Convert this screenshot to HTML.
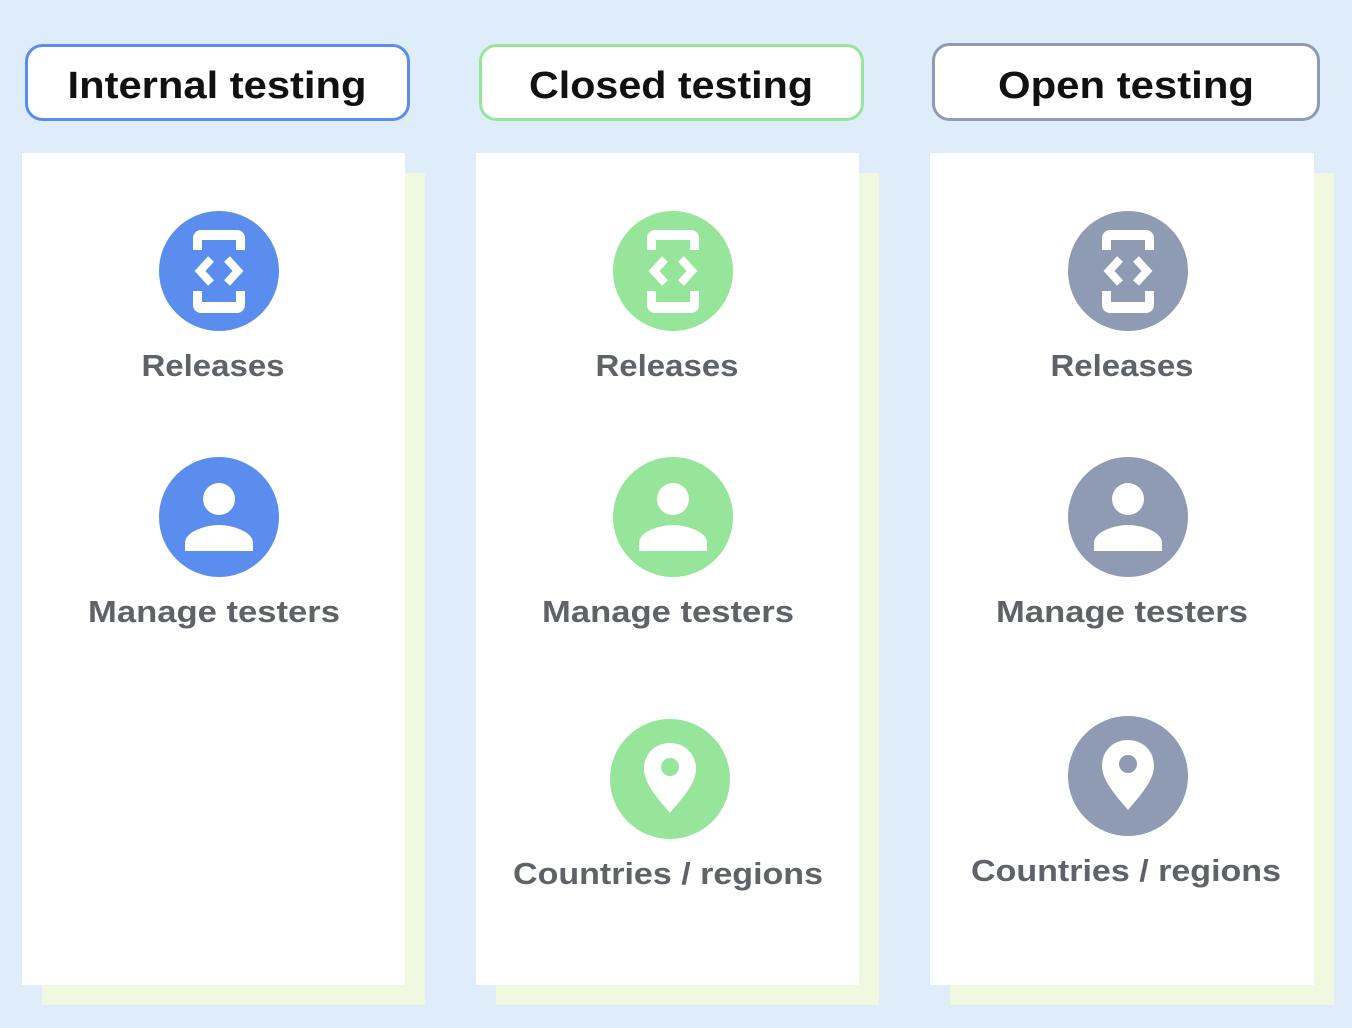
<!DOCTYPE html>
<html><head><meta charset="utf-8"><style>
html,body{margin:0;padding:0;background:#deedf9;}
svg{display:block}
</style></head><body>
<svg width="1352" height="1028" viewBox="0 0 1352 1028" xmlns="http://www.w3.org/2000/svg" font-family="Liberation Sans, sans-serif" font-weight="bold">
<defs>
<g id="rel">
<path fill-rule="evenodd" fill="#fff" d="M34 39 V27 a8 8 0 0 1 8 -8 H78 a8 8 0 0 1 8 8 V39 H77 V29 H43 V39Z"/>
<path fill-rule="evenodd" fill="#fff" d="M34 80 V94 a8 8 0 0 0 8 8 H78 a8 8 0 0 0 8 -8 V80 H77 V91 H43 V80Z"/>
<path d="M52 48 L41 60 L52 72 M68 48 L79 60 L68 72" fill="none" stroke="#fff" stroke-width="8" stroke-linejoin="miter"/>
</g>
<g id="per">
<circle cx="60" cy="42" r="16" fill="#fff"/>
<path d="M26 94 V86 c0 -12 22 -18 34 -18 s34 6 34 18 V94 Z" fill="#fff"/>
</g>
<g id="pin">
<path fill-rule="evenodd" fill="#fff" d="M60 24 C45 24 34 35 34 50 C34 66 52 84 60 94 C68 84 86 66 86 50 C86 35 75 24 60 24Z M60 39 a9 9 0 1 0 0.01 0Z"/>
</g>
</defs>

<rect x="42" y="173" width="383" height="832" fill="#f1f8e0"/>
<rect x="22" y="153" width="383" height="832" fill="#fff"/>
<rect x="26.5" y="45.5" width="382" height="74" rx="16" fill="#fff" stroke="#5b8def" stroke-width="3"/>
<text x="217" y="98" font-size="38" text-anchor="middle" fill="#111" textLength="299" lengthAdjust="spacingAndGlyphs">Internal testing</text>
<circle cx="219" cy="271" r="60" fill="#5b8def"/><use href="#rel" x="159" y="211"/>
<text x="213" y="376" font-size="31" text-anchor="middle" fill="#5f6368" textLength="143" lengthAdjust="spacingAndGlyphs">Releases</text>
<circle cx="219" cy="517" r="60" fill="#5b8def"/><use href="#per" x="159" y="457"/>
<text x="214" y="622" font-size="31" text-anchor="middle" fill="#5f6368" textLength="252" lengthAdjust="spacingAndGlyphs">Manage testers</text>

<rect x="496" y="173" width="383" height="832" fill="#f1f8e0"/>
<rect x="476" y="153" width="383" height="832" fill="#fff"/>
<rect x="480.5" y="45.5" width="382" height="74" rx="16" fill="#fff" stroke="#97e59a" stroke-width="3"/>
<text x="671" y="98" font-size="38" text-anchor="middle" fill="#111" textLength="284" lengthAdjust="spacingAndGlyphs">Closed testing</text>
<circle cx="673" cy="271" r="60" fill="#97e59a"/><use href="#rel" x="613" y="211"/>
<text x="667" y="376" font-size="31" text-anchor="middle" fill="#5f6368" textLength="143" lengthAdjust="spacingAndGlyphs">Releases</text>
<circle cx="673" cy="517" r="60" fill="#97e59a"/><use href="#per" x="613" y="457"/>
<text x="668" y="622" font-size="31" text-anchor="middle" fill="#5f6368" textLength="252" lengthAdjust="spacingAndGlyphs">Manage testers</text>
<circle cx="670" cy="779" r="60" fill="#97e59a"/><use href="#pin" x="610" y="719"/>
<text x="668" y="884" font-size="31" text-anchor="middle" fill="#5f6368" textLength="310" lengthAdjust="spacingAndGlyphs">Countries / regions</text>

<rect x="950" y="173" width="384" height="832" fill="#f1f8e0"/>
<rect x="930" y="153" width="384" height="832" fill="#fff"/>
<rect x="933.5" y="44.5" width="385" height="75" rx="16" fill="#fff" stroke="#8f9ab3" stroke-width="3"/>
<text x="1126" y="98" font-size="38" text-anchor="middle" fill="#111" textLength="256" lengthAdjust="spacingAndGlyphs">Open testing</text>
<circle cx="1128" cy="271" r="60" fill="#8f9ab3"/><use href="#rel" x="1068" y="211"/>
<text x="1122" y="376" font-size="31" text-anchor="middle" fill="#5f6368" textLength="143" lengthAdjust="spacingAndGlyphs">Releases</text>
<circle cx="1128" cy="517" r="60" fill="#8f9ab3"/><use href="#per" x="1068" y="457"/>
<text x="1122" y="622" font-size="31" text-anchor="middle" fill="#5f6368" textLength="252" lengthAdjust="spacingAndGlyphs">Manage testers</text>
<circle cx="1128" cy="776" r="60" fill="#8f9ab3"/><use href="#pin" x="1068" y="716"/>
<text x="1126" y="881" font-size="31" text-anchor="middle" fill="#5f6368" textLength="310" lengthAdjust="spacingAndGlyphs">Countries / regions</text>
</svg>
</body></html>
